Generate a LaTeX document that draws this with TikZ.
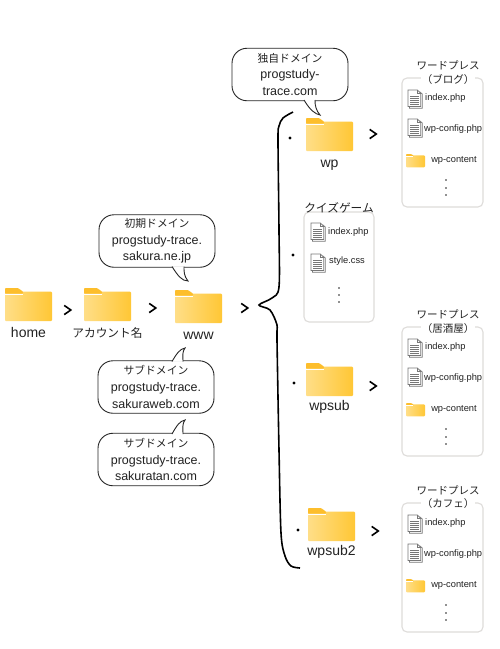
\documentclass[tikz,border=0pt]{standalone}
\usepackage{fontspec}
\usepackage{xcolor}
\usepackage{tikz}
\usetikzlibrary{positioning}
\setmainfont{Liberation Sans}
\newfontfamily\jpfont{Noto Sans CJK JP}
\definecolor{inktext}{HTML}{222222}
\definecolor{foldertab}{HTML}{FDBE2C}
\definecolor{folderlight}{HTML}{FFDE88}
\definecolor{folderdark}{HTML}{FFC735}
\definecolor{panelline}{HTML}{DEDCDA}
\definecolor{docline}{HTML}{777777}
\tikzset{
  folderbody/.style={left color=folderlight, right color=folderdark, rounded corners=1pt, minimum width=47pt, minimum height=29.5pt, inner sep=0pt},
  bubble/.style={draw=black!85, fill=white, line width=0.9pt, rounded corners=15pt, minimum width=116pt, minimum height=52.5pt, inner sep=0pt, align=center, text=inktext, font=\fontsize{12.5}{16.6}\selectfont},
  tail/.style={draw=black!85, fill=white, line width=0.9pt},
  panel/.style={draw=panelline, fill=white, line width=1.1pt, rounded corners=5pt, inner sep=0pt},
  lbl/.style={text=inktext, inner sep=0pt, font=\fontsize{14}{16}\selectfont},
  jplbl/.style={text=inktext, inner sep=1pt, font=\jpfont\fontsize{11.7}{14}\selectfont},
  titlelbl/.style={text=inktext, inner sep=1pt, font=\jpfont\fontsize{10.5}{14}\selectfont},
  filelbl/.style={text=inktext, inner sep=0pt, font=\fontsize{9.3}{11}\selectfont},
  chevron/.style={line width=1.6pt, black},
  bracket/.style={line width=1.6pt, black},
  pics/folder/.style={code={
    \node[folderbody] (box) at (23.5,18.25) {};
    \fill[foldertab, rounded corners=0.8pt] (0,5.6) -- (0,0) -- (13,0) -- (18,3.6) -- (18,5.6) -- cycle;
    \draw[white, line width=0.8pt] (0.3,6) -- (18,6);
  }},
  pics/docicon/.style={code={
    \draw[docline, fill=white, line width=0.7pt] (1.5,2) -- (1.5,18.3) -- (14.3,18.3) -- (14.3,4) -- (12,2) -- cycle;
    \draw[docline, fill=white, line width=0.7pt] (0,0) -- (0,16.5) -- (12.8,16.5) -- (12.8,3.5) -- (9.3,0) -- cycle;
    \draw[docline, line width=0.7pt] (9.3,0) -- (9.3,3.5) -- (12.8,3.5);
    \foreach \y in {6,8,10,12,14} \draw[docline, line width=0.6pt] (2.2,\y) -- (10.6,\y);
  }},
  pics/chevron/.style={code={
    \draw[chevron] (-3.3,-4.6) -- (3.3,0) -- (-3.3,4.6);
  }},
  pics/wpfiles/.style={code={
    \node[panel, minimum width=81pt, minimum height=129pt] (panel) at (40.5,64.5) {};
    \pic at (6,12) {docicon};
    \node[filelbl, anchor=west] (index) at (23,20) {index.php};
    \pic at (6,41) {docicon};
    \node[filelbl, anchor=west] (config) at (22,51) {wp-config.php};
    \pic[scale=0.405, transform shape] (small) at (4,76) {folder};
    \node[filelbl] (content) at (52,82) {wp-content};
    \foreach \y in {102,110,117} \fill[inktext] (44,\y) circle (0.8);
  }},
}
\begin{document}
\begin{tikzpicture}[x=1pt, y=-1pt]
\useasboundingbox (0,0) rectangle (500,649);
\fill[white] (0,0) rectangle (500,649);
% folders along the path
\pic (home) at (5,288) {folder};
\pic (account) at (84,288) {folder};
\pic (www) at (175,290) {folder};
\node[lbl, below=6pt of homebox] (homelabel) {home};
\node[jplbl, below=5pt of accountbox] (accountlabel) {アカウント名};
\node[lbl, below=9pt of wwwbox] (wwwlabel) {www};
\pic at (67.5,310) {chevron};
\pic at (152.5,308) {chevron};
\pic at (244.5,308) {chevron};
% domain bubbles
\node[bubble] (initial) at (157,241) {{\jpfont\fontsize{10.8}{16.6}\selectfont 初期ドメイン}\\progstudy-trace.\\sakura.ne.jp};
\coordinate (initialtip) at (188,281);
\draw[tail] ([xshift=15pt, yshift=1.2pt]initial.south) .. controls (178,276) and (182,281) .. (initialtip) .. controls (184,276) and (184,272) .. ([xshift=27pt, yshift=1.2pt]initial.south);
\node[bubble] (subweb) at (156,387) {{\jpfont\fontsize{10.8}{16.6}\selectfont サブドメイン}\\progstudy-trace.\\sakuraweb.com};
\coordinate (subwebtip) at (185,348);
\draw[tail] ([xshift=16pt, yshift=-1.2pt]subweb.north) .. controls (177,353) and (180,349) .. (subwebtip) .. controls (182,352) and (183,356) .. ([xshift=27pt, yshift=-1.2pt]subweb.north);
\node[bubble] (subtan) at (156,459.5) {{\jpfont\fontsize{10.8}{16.6}\selectfont サブドメイン}\\progstudy-trace.\\sakuratan.com};
\coordinate (subtantip) at (185,420);
\draw[tail] ([xshift=16pt, yshift=-1.2pt]subtan.north) .. controls (177,425) and (180,421) .. (subtantip) .. controls (182,424) and (183,428) .. ([xshift=27pt, yshift=-1.2pt]subtan.north);
\node[bubble] (own) at (290,74.5) {{\jpfont\fontsize{10.8}{16.6}\selectfont 独自ドメイン}\\progstudy-\\trace.com};
\coordinate (owntip) at (320,115);
\draw[tail] ([xshift=14pt, yshift=1.2pt]own.south) .. controls (310,110) and (315,114) .. (owntip) .. controls (316,110) and (315,106) .. ([xshift=25pt, yshift=1.2pt]own.south);
% hand drawn bracket
\draw[bracket] plot[smooth, tension=0.5] coordinates {(293,112) (283,118) (279,126) (278,140) (279,230) (279,287) (272,298) (259,305) (270,310) (277,325) (277,340) (279,450) (281,533) (285,556) (291,566) (300,568)};
\fill[black] (290,138) circle (1.7);
\fill[black] (293,255) circle (1.7);
\fill[black] (294,383) circle (1.7);
\fill[black] (298,530) circle (1.7);
% sub folders
\pic (wp) at (306,118) {folder};
\node[lbl, below=9pt of wpbox] (wplabel) {wp};
\pic (wpsub) at (306,363) {folder};
\node[lbl, below=4pt of wpsubbox] (wpsublabel) {wpsub};
\pic (wpsubb) at (308,508) {folder};
\node[lbl, below=4pt of wpsubbbox] (wpsubblabel) {wpsub2};
\pic at (373,134) {chevron};
\pic at (373,386) {chevron};
\pic at (375,531) {chevron};
% file panels
\pic (blog) at (402,78) {wpfiles};
\node[titlelbl] (blogtitle) at (448,65) {ワードプレス};
\node[titlelbl, fill=white] (blogsub) at (448,79) {（ブログ）};
\node[panel, minimum width=70pt, minimum height=110pt] (quiz) at (339,267) {};
\node[jplbl] (quiztitle) at (339,208) {クイズゲーム};
\pic at (311,223) {docicon};
\node[filelbl, anchor=west] (quizindex) at (328,232) {index.php};
\pic at (311,254) {docicon};
\node[filelbl, anchor=west] (quizstyle) at (329,261) {style.css};
\foreach \y in {288,295,302} \fill[inktext] (339,\y) circle (0.8);
\pic (izakaya) at (402,327) {wpfiles};
\node[titlelbl] (izakayatitle) at (448,314) {ワードプレス};
\node[titlelbl, fill=white] (izakayasub) at (448,329) {（居酒屋）};
\pic (cafe) at (402,503) {wpfiles};
\node[titlelbl] (cafetitle) at (448,490) {ワードプレス};
\node[titlelbl, fill=white] (cafesub) at (448,504) {（カフェ）};
\end{tikzpicture}
\end{document}
